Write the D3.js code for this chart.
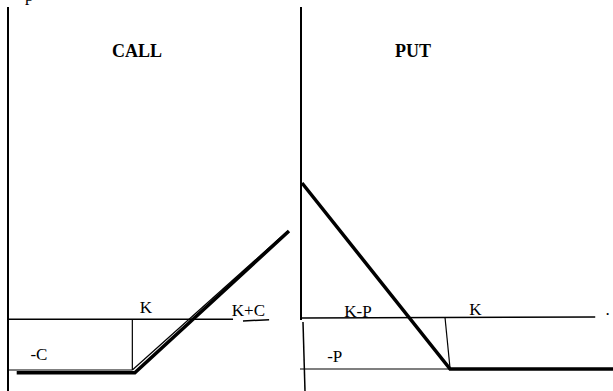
<!DOCTYPE html>
<html>
<head>
<meta charset="utf-8">
<script src="https://cdn.jsdelivr.net/npm/d3@7"></script>
<style>
  body { margin: 0; background: #fff; }
  svg { display: block; }
  .lbl { font-family: "Liberation Serif", "Times New Roman", serif; font-size: 17px; fill: #000; }
  .title { font-family: "Liberation Serif", "Times New Roman", serif; font-size: 18px; font-weight: bold; fill: #000; }
</style>
</head>
<body>
<div class="payoff-viz"></div>
<script>
const WIDTH = 613,
    HEIGHT = 391;

// call panel (price units, payoff units)
const callStrike = 100, callPremium = 46;
const callPayoffThick = [[7, -48.5], [102, -48.5], [226, 80]];
const callPayoffThin = [[100, -46], [225, 80]];
const callAxisEnd = 181;

// put panel
const putStrike = 100, putPremium = 27.4;
const putPayoff = [[0, 72.6], [100, -27.4], [210, -27.4]];
const putStrikeLine = [[96.6, 0], [100, -27.4]];
const putAxisEnd = 198;

const callLabels = [
    { text: "K", x: 106, y: 3 },
    { text: "K+C", x: 180, y: 0 },
    { text: "-C", x: 18, y: -40 }
];
const putLabels = [
    { text: "K-P", x: 28.5, y: 0 },
    { text: "K", x: 113, y: 1 },
    { text: "-P", x: 17, y: -24 },
    { text: ".", x: 205, y: 1 }
];

const svg = d3.select(".payoff-viz")
    .append("svg")
    .attr("width", WIDTH)
    .attr("height", HEIGHT);

svg.append("rect").attr("width", WIDTH).attr("height", HEIGHT).attr("fill", "#fff");

const line = (xs, ys) => d3.line().x(d => xs(d[0])).y(d => ys(d[1]));

function seg(x1, y1, x2, y2, w) {
    svg.append("line")
        .attr("x1", x1).attr("y1", y1)
        .attr("x2", x2).attr("y2", y2)
        .attr("stroke", "#000")
        .attr("stroke-width", w);
}

// ---- CALL ----
const xL = d3.scaleLinear().domain([0, 226]).range([8, 289]);
const yL = d3.scaleLinear().domain([-46, 80]).range([370, 231]);

seg(xL(0), 7, xL(0), HEIGHT, 2);                          // vertical axis
seg(xL(0), yL(0), xL(callAxisEnd), yL(0), 1.5);           // zero line
seg(xL(0), yL(-callPremium), xL(callStrike), yL(-callPremium), 1.2);
seg(xL(callStrike), yL(0), xL(callStrike), yL(-callPremium), 1.2);

svg.append("path")
    .datum(callPayoffThin)
    .attr("d", line(xL, yL))
    .attr("fill", "none")
    .attr("stroke", "#000")
    .attr("stroke-width", 1.2);

svg.append("path")
    .datum(callPayoffThick)
    .attr("d", line(xL, yL))
    .attr("fill", "none")
    .attr("stroke", "#000")
    .attr("stroke-width", 3.5);

// small underline stroke under K+C
seg(xL(189), yL(-1.5), xL(210), yL(-0.5), 1.5);

svg.selectAll(".call-lbl")
    .data(callLabels)
    .join("text")
    .attr("class", "lbl call-lbl")
    .attr("x", d => xL(d.x))
    .attr("y", d => yL(d.y) - 3)
    .text(d => d.text);

svg.append("text").attr("class", "title").attr("x", 112).attr("y", 57).text("CALL");
svg.append("text").attr("class", "lbl").attr("x", 25).attr("y", 1).text("p");

// ---- PUT ----
const xR = d3.scaleLinear().domain([0, 210]).range([302, 613]);
const yR = d3.scaleLinear().domain([-27.4, 72.6]).range([369, 183]);

seg(xR(0) - 1, 7, xR(0) - 1, 320, 2);                      // vertical axis
seg(xR(0) + 1, 322, xR(0) + 3, HEIGHT, 1.5);               // lower broken part
seg(xR(0), yR(0), xR(putAxisEnd), yR(0) - 1, 1.5);         // zero line
seg(xR(0) - 2, yR(-putPremium), xR(putStrike), yR(-putPremium), 1.2);

svg.append("path")
    .datum(putStrikeLine)
    .attr("d", line(xR, yR))
    .attr("fill", "none")
    .attr("stroke", "#000")
    .attr("stroke-width", 1.2);

svg.append("path")
    .datum(putPayoff)
    .attr("d", line(xR, yR))
    .attr("fill", "none")
    .attr("stroke", "#000")
    .attr("stroke-width", 3.5);

svg.selectAll(".put-lbl")
    .data(putLabels)
    .join("text")
    .attr("class", "lbl put-lbl")
    .attr("x", d => xR(d.x))
    .attr("y", d => yR(d.y) - 1)
    .text(d => d.text);

svg.append("text").attr("class", "title").attr("x", 395).attr("y", 57).text("PUT");
</script>
</body>
</html>
